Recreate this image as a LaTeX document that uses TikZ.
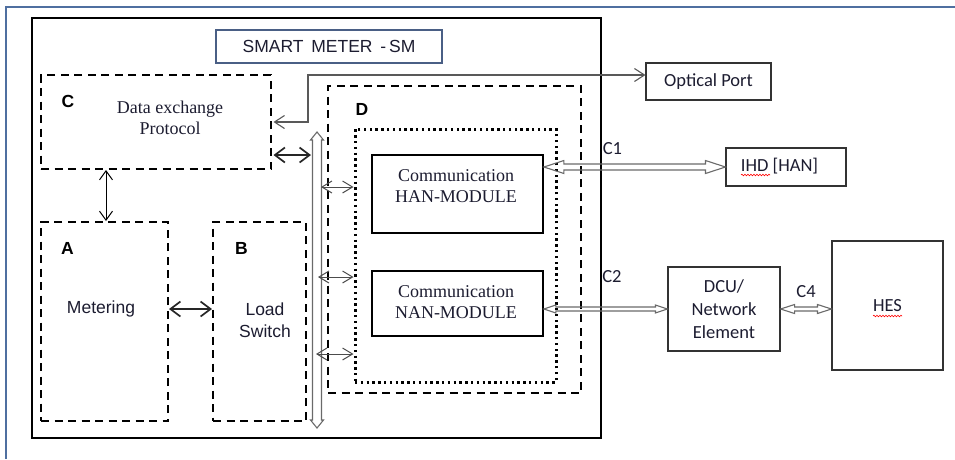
\documentclass[tikz,border=0pt]{standalone}
\usepackage{fontspec}
\setmainfont{Liberation Serif}
\newfontfamily\arialf{Liberation Sans}
\newfontfamily\calf{Carlito}
\usetikzlibrary{arrows.meta,calc,decorations.pathmorphing}
\definecolor{frameblue}{HTML}{4F6FA0}
\definecolor{titleblue}{HTML}{4A5F85}
\definecolor{txt}{HTML}{1C1C30}
\definecolor{hgray}{HTML}{6A6A6A}
\tikzset{
  box/.style={draw, line width=1.4pt, inner sep=0pt},
  dbox/.style={draw, line width=2pt, dash pattern=on 8pt off 5.5pt, inner sep=0pt},
  dotbox/.style={draw, line width=3pt, dash pattern=on 2.4pt off 3.4pt, inner sep=0pt},
  thinbox/.style={draw=black!80, line width=1.1pt, inner sep=0pt},
  ser/.style={font=\fontsize{18}{21}\selectfont, text=txt, align=center, inner sep=0pt},
  ari/.style={font=\arialf\fontsize{17.5}{22}\selectfont, text=txt, align=center, inner sep=0pt},
  arib/.style={font=\arialf\bfseries\fontsize{17.5}{21}\selectfont, text=black, inner sep=0pt},
  cal/.style={font=\calf\fontsize{18.5}{23}\selectfont, text=txt, align=center, inner sep=0pt},
  hollow/.style={draw=hgray, line width=1.1pt, line join=miter},
  conn/.style={line width=1pt, black, {Straight Barb[length=9pt,width=13pt]}-{Straight Barb[length=9pt,width=13pt]}},
  thick conn/.style={line width=1.7pt, black!85, {Straight Barb[length=10pt,width=15pt]}-{Straight Barb[length=10pt,width=15pt]}},
  bus conn/.style={line width=1pt, black!70, {Straight Barb[length=10pt,width=12pt]}-{Straight Barb[length=10pt,width=12pt]}},
  opt conn/.style={line width=1.1pt, black!65, {Straight Barb[length=10pt,width=13pt]}-{Straight Barb[length=10pt,width=13pt]}},
  squig/.style={red, line width=0.6pt, decorate, decoration={snake, amplitude=0.8pt, segment length=3pt}}
}
% horizontal hollow double arrow: #1 tip a, #2 tip b, #3 head length, #4 head half width, #5 shaft half width
\newcommand\hdarrow[5]{\draw[hollow] (#1) -- ++(#3,-#4) -- ++(0,#4-#5) -- ($(#2)+(-#3,-#5)$) -- ++(0,#5-#4) -- (#2) -- ++(-#3,#4) -- ++(0,#5-#4) -- ($(#1)+(#3,#5)$) -- ++(0,#4-#5) -- cycle;}
% vertical hollow double arrow
\newcommand\vdarrow[5]{\draw[hollow] (#1) -- ++(#4,#3) -- ++(#5-#4,0) -- ($(#2)+(#5,-#3)$) -- ++(#4-#5,0) -- (#2) -- ++(-#4,-#3) -- ++(#4-#5,0) -- ($(#1)+(-#5,#3)$) -- ++(#5-#4,0) -- cycle;}
\begin{document}
\begin{tikzpicture}[x=1pt,y=-1pt]
\useasboundingbox (0,0) rectangle (955,459);
% outer frame (only top and left visible)
\draw[frameblue, line width=2pt] (6,459) -- (6,7) -- (955,7);
% smart meter box
\node[box, line width=2pt, minimum width=569pt, minimum height=420pt] (sm) at (316.5,228) {};
\node[draw=titleblue, line width=1.2pt, minimum width=226pt, minimum height=33pt, inner sep=0pt, font=\arialf\fontsize{17.5}{21}\selectfont, text=txt] (title) at (329,46.5) {SMART\, METER\, -\,SM};
% dashed blocks
\node[dbox, minimum width=230pt, minimum height=94pt] (C) at (156,122) {};
\node[dbox, minimum width=127pt, minimum height=199pt] (A) at (104.5,321.5) {};
\node[dbox, minimum width=93pt, minimum height=199pt] (B) at (259.5,321.5) {};
\node[dbox, minimum width=253pt, minimum height=307pt] (D) at (454.5,239.5) {};
\node[dotbox, minimum width=201pt, minimum height=253pt] (dot) at (455.5,255.5) {};
\node[box, line width=1.8pt, minimum width=171pt, minimum height=78pt] (han) at (457.5,194) {};
\node[box, line width=1.8pt, minimum width=171pt, minimum height=65pt] (nan) at (457.5,303.5) {};
% labels
\node[arib] (lC) at (68,101) {C};
\node[arib] (lA) at (67.5,248) {A};
\node[arib] (lB) at (241.5,248) {B};
\node[arib] (lD) at (362,109) {D};
\node[ser] (tC) at (170,117.5) {Data exchange\\Protocol};
\node[ari] (tA) at (101,309) {Metering};
\node[ari] (tB) at (265,320) {Load\\Switch};
\node[ser] (thanl) at (456,186.5) {Communication\\HAN-MODULE};
\node[ser] (tnan) at (456,302.5) {Communication\\NAN-MODULE};
% external boxes
\node[thinbox, minimum width=125pt, minimum height=37pt, cal] (opt) at (708.5,81.5) {Optical Port};
\node[thinbox, minimum width=120pt, minimum height=38pt] (ihd) at (786,167) {};
\node[cal] (tihd) at (779.5,166) {IHD [HAN]};
\node[thinbox, minimum width=112pt, minimum height=84pt, cal] (dcu) at (724,309) {DCU/\\Network\\Element};
\node[thinbox, minimum width=111pt, minimum height=129pt, cal] (hes) at (887.5,305.5) {HES};
\draw[squig] (741,175) -- (770,175);
\draw[squig] (873,316) -- (902,316);
% connector labels
\node[cal] (lc1) at (612.5,149) {C1};
\node[cal] (lc2) at (612,277) {C2};
\node[cal] (lc4) at (806,292) {C4};
% bus
\coordinate (bustop) at (317,132);
\coordinate (busbot) at (317,428);
\vdarrow{bustop}{busbot}{8}{6.5}{4.5}
% internal connectors
\coordinate (caX) at (106,0);
\draw[conn] (C.south -| caX) -- (A.north -| caX);
\coordinate (abY) at (190,309);
\draw[thick conn] (A.east |- abY) -- (B.west |- abY);
\coordinate (cb) at (311,155);
\draw[thick conn] ($(C.east |- cb)+(1.5,0)$) -- (cb);
\coordinate (b1) at (321,187);
\coordinate (b2) at (318,277);
\coordinate (b3) at (316,354);
\draw[bus conn] (b1) -- (dot.west |- b1);
\draw[bus conn] (b2) -- (dot.west |- b2);
\draw[bus conn] (b3) -- (dot.west |- b3);
% optical port connector
\coordinate (ob) at (308,122);
\draw[opt conn] ($(C.east |- ob)+(1.5,0)$) -- (ob) |- ($(opt.west)+(0,-6.5)$);
% external hollow connectors
\hdarrow{han.east |- ihd.west}{ihd.west}{20}{6.5}{3}
\hdarrow{nan.east |- dcu.west}{dcu.west}{12}{4}{2}
\hdarrow{dcu.east}{hes.west |- dcu.east}{14}{4.5}{2}
\end{tikzpicture}
\end{document}
